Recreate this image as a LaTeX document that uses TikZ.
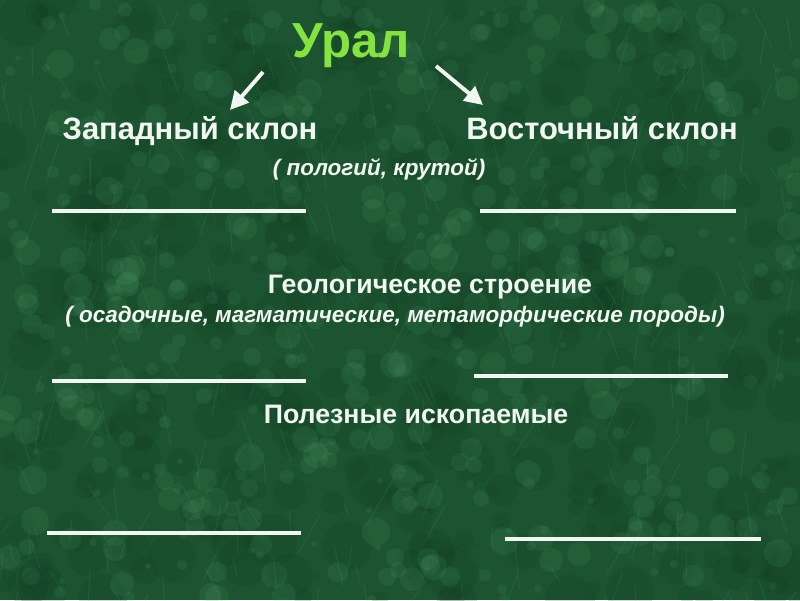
\documentclass[tikz,border=0pt]{standalone}
\usepackage{fontspec}
\setmainfont{Liberation Sans}
\usetikzlibrary{arrows.meta}
\definecolor{marble}{HTML}{1C5431}
\definecolor{vein}{HTML}{5FAA7A}
\definecolor{moss}{HTML}{0F3A20}
\definecolor{salad}{HTML}{84E33F}
\definecolor{snow}{HTML}{F2F6F0}

\begin{document}
\begin{tikzpicture}[x=0.025cm,y=-0.025cm,
    headline/.style={font=\bfseries\fontsize{35}{40}\selectfont, text=salad, inner sep=0pt, anchor=base},
    heading/.style={font=\bfseries\fontsize{19}{22}\selectfont, text=snow, inner sep=0pt, anchor=base},
    remark/.style={font=\bfseries\itshape\fontsize{16}{19}\selectfont, text=snow, inner sep=0pt, anchor=base},
    blank/.style={draw=snow, line width=2.6pt},
    pointer/.style={draw=snow, line width=2.8pt, -{Triangle[length=13pt,width=13pt]}}]
    \fill[marble] (0,0) rectangle (800,600);
    \useasboundingbox (0,0) rectangle (800,600);
    % marble texture
    \begin{scope}
        \clip (0,0) rectangle (800,600);
        \pgfmathsetseed{42}
        \foreach \k in {1,...,350}{
            \pgfmathsetmacro{\px}{random(0,800)}
            \pgfmathsetmacro{\py}{random(0,600)}
            \pgfmathsetmacro{\rad}{random(6,26)}
            \fill[moss, opacity=0.18] (\px,\py) circle (\rad);
        }
        \foreach \k in {1,...,450}{
            \pgfmathsetmacro{\px}{random(0,800)}
            \pgfmathsetmacro{\py}{random(0,600)}
            \pgfmathsetmacro{\rad}{random(3,14)}
            \fill[vein, opacity=0.12] (\px,\py) circle (\rad);
        }
        \foreach \k in {1,...,250}{
            \pgfmathsetmacro{\px}{random(0,800)}
            \pgfmathsetmacro{\py}{random(0,600)}
            \pgfmathsetmacro{\ang}{random(55,125)}
            \pgfmathsetmacro{\len}{random(15,50)}
            \draw[vein, opacity=0.14, line width=0.7pt] (\px,\py) -- ++(\ang:\len);
        }
    \end{scope}
    % title
    \node[headline] (ural) at (351,57) {Урал};
    % arrows
    \coordinate (wfrom) at (263,72);
    \coordinate (wto) at (230,110);
    \coordinate (efrom) at (436,66);
    \coordinate (eto) at (483,105);
    \draw[pointer] (wfrom) -- (wto);
    \draw[pointer] (efrom) -- (eto);
    % slopes
    \node[heading, font=\bfseries\fontsize{22}{25}\selectfont] (west) at (190,139) {Западный склон};
    \node[heading, font=\bfseries\fontsize{22}{25}\selectfont] (east) at (602,139) {Восточный склон};
    \node[remark] (slope) at (379,175) {( пологий, крутой)};
    \draw[blank] (52,211) -- (306,211);
    \draw[blank] (480,211) -- (736,211);
    % geology
    \node[heading] (geo) at (430,293) {Геологическое строение};
    \node[remark] (rocks) at (395,322) {( осадочные, магматические, метаморфические породы)};
    \draw[blank] (52,381) -- (306,381);
    \draw[blank] (474,376) -- (728,376);
    % minerals
    \node[heading] (ores) at (416,423) {Полезные ископаемые};
    \draw[blank] (47,533) -- (301,533);
    \draw[blank] (505,539) -- (761,539);
\end{tikzpicture}
\end{document}
